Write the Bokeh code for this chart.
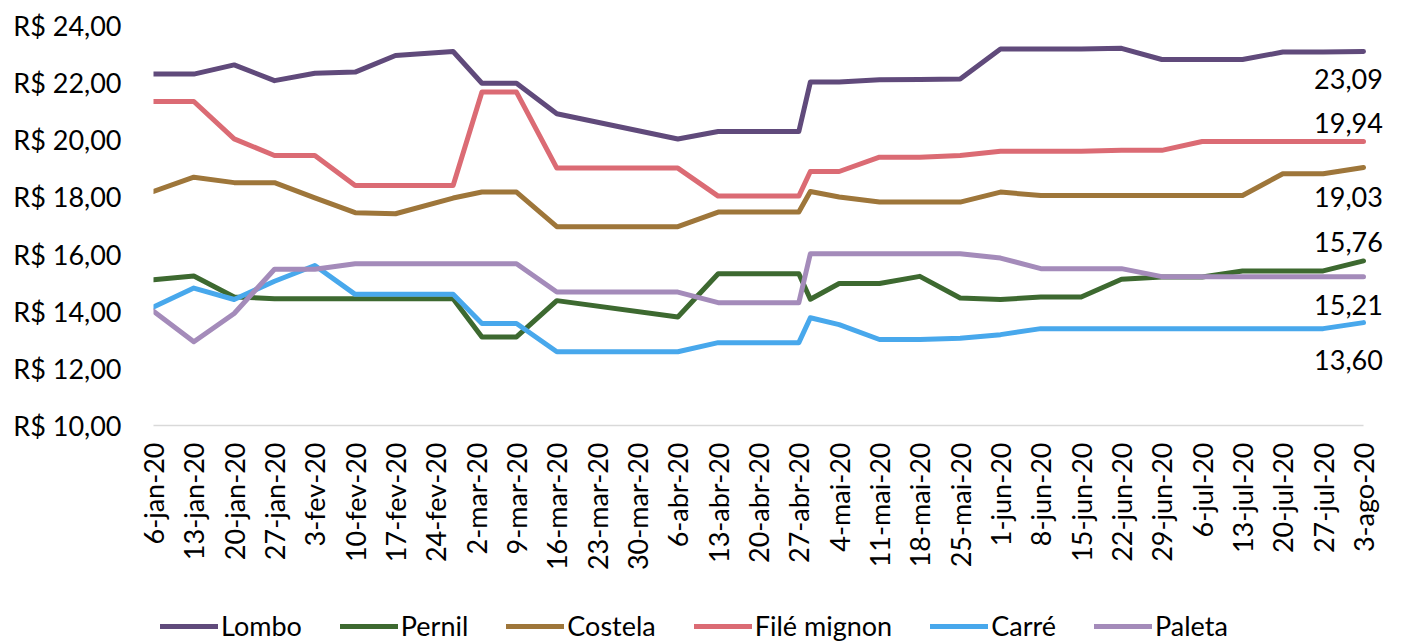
import math
import pandas as pd
from bokeh.plotting import figure
from bokeh.layouts import column
from bokeh.models import FixedTicker, Legend, LegendItem, ColumnDataSource
from bokeh.core.properties import value
from bokeh.embed import file_html
from bokeh.resources import INLINE

# ---- data ----
start_date = "2020-01-06"
dates = ["2020-01-06", "2020-01-13", "2020-01-20", "2020-01-27", "2020-02-03",
         "2020-02-10", "2020-02-17", "2020-02-27", "2020-03-03", "2020-03-09",
         "2020-03-16", "2020-04-06", "2020-04-13", "2020-04-20", "2020-04-27",
         "2020-04-29", "2020-05-04", "2020-05-11", "2020-05-18", "2020-05-25",
         "2020-06-01", "2020-06-08", "2020-06-15", "2020-06-22", "2020-06-29",
         "2020-07-06", "2020-07-13", "2020-07-20", "2020-07-27", "2020-08-03"]

lombo = [22.30, 22.30, 22.62, 22.07, 22.33, 22.37, 22.95, 23.09, 21.98, 21.98,
         20.91, 20.03, 20.29, 20.29, 20.29, 22.02, 22.02, 22.10, 22.11, 22.13,
         23.18, 23.18, 23.18, 23.20, 22.81, 22.81, 22.81, 23.07, 23.07, 23.09]
pernil = [15.10, 15.23, 14.50, 14.44, 14.44, 14.44, 14.44, 14.44, 13.10, 13.10,
          14.37, 13.80, 15.31, 15.31, 15.31, 14.42, 14.97, 14.97, 15.22, 14.46,
          14.41, 14.50, 14.50, 15.12, 15.20, 15.20, 15.41, 15.41, 15.41, 15.76]
costela = [18.19, 18.69, 18.50, 18.50, 17.97, 17.45, 17.41, 17.96, 18.17, 18.17,
           16.96, 16.96, 17.47, 17.47, 17.47, 18.19, 18.00, 17.82, 17.82, 17.82,
           18.17, 18.05, 18.05, 18.05, 18.05, 18.05, 18.05, 18.81, 18.81, 19.03]
file_mignon = [21.34, 21.34, 20.03, 19.45, 19.45, 18.40, 18.40, 18.40, 21.67, 21.67,
               19.01, 19.01, 18.03, 18.03, 18.03, 18.89, 18.89, 19.39, 19.39, 19.45,
               19.60, 19.60, 19.60, 19.63, 19.63, 19.94, 19.94, 19.94, 19.94, 19.94]
carre = [14.15, 14.81, 14.41, 15.05, 15.60, 14.59, 14.59, 14.59, 13.57, 13.57,
         12.58, 12.58, 12.90, 12.90, 12.90, 13.77, 13.53, 13.01, 13.01, 13.05,
         13.18, 13.39, 13.39, 13.39, 13.39, 13.39, 13.39, 13.39, 13.39, 13.60]
paleta = [14.00, 12.93, 13.92, 15.47, 15.47, 15.66, 15.66, 15.66, 15.66, 15.66,
          14.67, 14.67, 14.30, 14.30, 14.30, 16.01, 16.01, 16.01, 16.01, 16.01,
          15.86, 15.49, 15.49, 15.49, 15.21, 15.21, 15.21, 15.21, 15.21, 15.21]

series_names = ["Lombo", "Pernil", "Costela", "Filé mignon", "Carré", "Paleta"]
series_values = [lombo, pernil, costela, file_mignon, carre, paleta]

x_labels = ["6-jan-20", "13-jan-20", "20-jan-20", "27-jan-20", "3-fev-20", "10-fev-20",
            "17-fev-20", "24-fev-20", "2-mar-20", "9-mar-20", "16-mar-20", "23-mar-20",
            "30-mar-20", "6-abr-20", "13-abr-20", "20-abr-20", "27-abr-20", "4-mai-20",
            "11-mai-20", "18-mai-20", "25-mai-20", "1-jun-20", "8-jun-20", "15-jun-20",
            "22-jun-20", "29-jun-20", "6-jul-20", "13-jul-20", "20-jul-20", "27-jul-20",
            "3-ago-20"]
y_ticks = [10, 12, 14, 16, 18, 20, 22, 24]
y_labels = ["R$ 10,00", "R$ 12,00", "R$ 14,00", "R$ 16,00", "R$ 18,00",
            "R$ 20,00", "R$ 22,00", "R$ 24,00"]

# ---- styles ----
colors = ["#604a7b", "#3d6930", "#9e763a", "#db6b74", "#48a8ec", "#a48bba"]
# screen px offsets of end labels, down = +  (lombo, pernil, costela, filé, carré, paleta)
label_offsets = [27, -19, 29, -19, 37, 28]
FONT = "Lato"
FS = "27px"

x = list((pd.to_datetime(dates) - pd.Timestamp(start_date)).days)
x_ticks = [7 * i for i in range(len(x_labels))]
x_end = x_ticks[-1] * 1240 / 1210   # leave room inside the frame for end labels

p = figure(frame_width=1240, frame_height=400, x_range=(x_ticks[0], x_end), y_range=(10, 24),
           output_backend="svg", toolbar_location=None,
           min_border_left=153, min_border_right=9, min_border_top=25, min_border_bottom=160)
p.outline_line_color = None
p.xgrid.grid_line_color = None
p.ygrid.grid_line_color = None
p.background_fill_color = "white"
p.border_fill_color = "white"

for name, vals, col in zip(series_names, series_values, colors):
    src = ColumnDataSource(dict(x=x, y=vals))
    p.line("x", "y", source=src, line_color=col, line_width=5,
           line_join="round", line_cap="round")

# data labels at the last point
lab_src = ColumnDataSource(dict(
    x=[x[-1]] * len(series_values),
    y=[v[-1] for v in series_values],
    t=[f"{v[-1]:.2f}".replace(".", ",") for v in series_values],
    yo=label_offsets,
))
p.text("x", "y", text="t", source=lab_src, x_offset=-15, y_offset="yo",
       text_align="center", text_baseline="middle",
       text_font=value(FONT), text_font_size=FS, text_color="black")

# axes
xa = p.xaxis[0]
xa.bounds = (x_ticks[0], x_ticks[-1])
xa.ticker = FixedTicker(ticks=x_ticks)
xa.major_label_overrides = {t: l for t, l in zip(x_ticks, x_labels)}
xa.major_label_orientation = math.pi / 2
xa.major_label_text_font = FONT
xa.major_label_text_font_size = FS
xa.major_label_text_color = "black"
xa.major_tick_line_color = None
xa.minor_tick_line_color = None
xa.major_tick_out = 0
xa.minor_tick_out = 0
xa.axis_line_color = "#d9d9d9"
xa.axis_line_width = 1.5
xa.major_label_standoff = 17

ya = p.yaxis[0]
ya.ticker = FixedTicker(ticks=y_ticks)
ya.major_label_overrides = {t: l for t, l in zip(y_ticks, y_labels)}
ya.major_label_text_font = FONT
ya.major_label_text_font_size = FS
ya.major_label_text_color = "black"
ya.major_tick_line_color = None
ya.minor_tick_line_color = None
ya.major_tick_out = 0
ya.minor_tick_out = 0
ya.axis_line_color = None
ya.major_label_standoff = 32

# ---- legend strip below the chart ----
pl = figure(width=1404, height=58, output_backend="svg", toolbar_location=None,
            x_axis_location=None, y_axis_location=None,
            min_border_left=153, min_border_right=9, min_border_top=17, min_border_bottom=0)
pl.outline_line_color = None
pl.xgrid.grid_line_color = None
pl.ygrid.grid_line_color = None
leg_renderers = []
for vals, col in zip(series_values, colors):
    src = ColumnDataSource(dict(x=x, y=vals))
    r = pl.line("x", "y", source=src, line_color=col, line_width=5, line_cap="round")
    r.visible = False          # only its legend entry is shown
    leg_renderers.append(r)
legend = Legend(items=[LegendItem(label=n, renderers=[r]) for n, r in zip(series_names, leg_renderers)],
                orientation="horizontal", location="top_left",
                glyph_width=58, glyph_height=20, label_standoff=3, spacing=38, padding=0,
                margin=7, border_line_color=None, background_fill_alpha=0,
                inactive_fill_alpha=0,
                label_text_font=FONT, label_text_font_size=FS, label_text_color="black")
pl.add_layout(legend)

layout = column(p, pl, spacing=0)
open("out.html", "w").write(file_html(layout, INLINE))
